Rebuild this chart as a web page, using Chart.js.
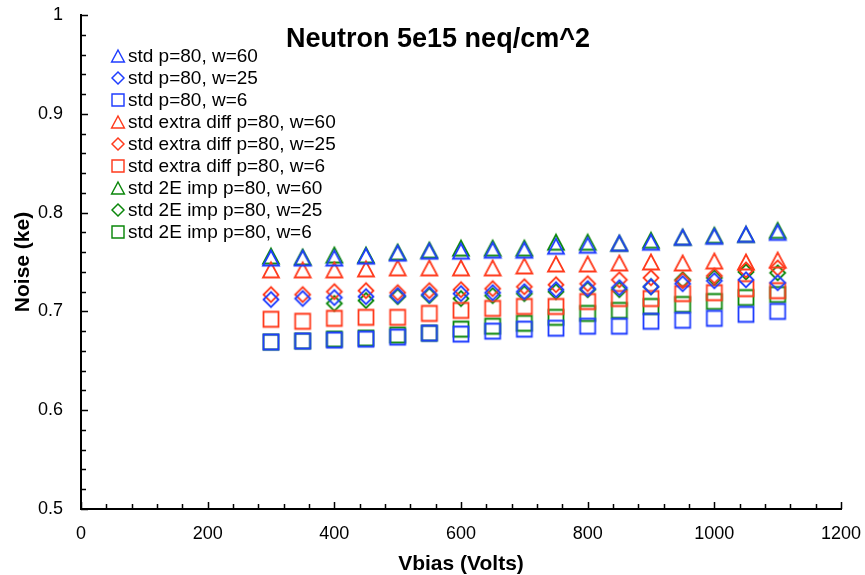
<!DOCTYPE html>
<html>
<head>
<meta charset="utf-8">
<script src="https://cdn.jsdelivr.net/npm/chart.js@4"></script>
<style>
html,body{margin:0;padding:0;background:#fff;}
#wrap{width:865px;height:575px;}
</style>
</head>
<body>
<div id="wrap"><canvas id="c" width="865" height="575"></canvas></div>
<script>
// ---- data ----
const titleText = "Neutron 5e15 neq/cm^2";
const xTitle = "Vbias (Volts)";
const yTitle = "Noise (ke)";
const volts = [300,350,400,450,500,550,600,650,700,750,800,850,900,950,1000,1050,1100];
const seriesNames = [
  "std p=80, w=60", "std p=80, w=25", "std p=80, w=6",
  "std extra diff p=80, w=60", "std extra diff p=80, w=25", "std extra diff p=80, w=6",
  "std 2E imp p=80, w=60", "std 2E imp p=80, w=25", "std 2E imp p=80, w=6"
];
const std_w60 = [0.754,0.754,0.754,0.756,0.759,0.761,0.761,0.762,0.762,0.766,0.767,0.769,0.770,0.775,0.776,0.778,0.780];
const std_w25 = [0.712,0.713,0.714,0.715,0.716,0.717,0.718,0.719,0.720,0.722,0.723,0.724,0.725,0.728,0.731,0.732,0.729];
const std_w6  = [0.669,0.670,0.671,0.672,0.674,0.678,0.677,0.680,0.682,0.683,0.685,0.685,0.690,0.691,0.693,0.697,0.700];
const xd_w60  = [0.742,0.742,0.742,0.743,0.744,0.744,0.744,0.744,0.746,0.748,0.748,0.749,0.750,0.749,0.751,0.750,0.752];
const xd_w25  = [0.717,0.717,0.720,0.721,0.719,0.721,0.722,0.723,0.725,0.727,0.728,0.732,0.734,0.731,0.736,0.742,0.744];
const xd_w6   = [0.692,0.690,0.693,0.694,0.694,0.698,0.701,0.703,0.705,0.705,0.710,0.713,0.713,0.718,0.719,0.723,0.721];
const e2_w60  = [0.756,0.755,0.757,0.757,0.760,0.762,0.764,0.764,0.764,0.770,0.770,0.769,0.772,0.775,0.777,0.778,0.782];
const e2_w25  = [null,null,0.708,0.711,0.715,0.716,0.713,0.716,0.718,0.720,0.722,0.722,0.725,0.732,0.734,0.740,0.739];
const e2_w6   = [0.669,0.670,0.672,0.673,0.676,0.678,0.682,0.685,0.688,0.694,0.698,0.701,0.705,0.707,0.710,0.714,0.717];
const yTickLabels = ["0.5","0.6","0.7","0.8","0.9","1"];
const xTickLabels = ["0","200","400","600","800","1000","1200"];

// ---- styling ----
const BLUE = '#1f3dff', RED = '#ff3a1c', GREEN = '#0a870a';
function makeMarker(shape, color, scale) {
  const s = Math.round(20 * scale);
  const c = document.createElement('canvas');
  c.width = s; c.height = s;
  const g = c.getContext('2d');
  g.scale(scale, scale);
  g.strokeStyle = color; g.lineWidth = 1.8; g.lineJoin = 'miter';
  g.beginPath();
  if (shape === 'tri') { g.moveTo(10, 2.5); g.lineTo(18, 17.5); g.lineTo(2, 17.5); g.closePath(); }
  else if (shape === 'dia') { g.moveTo(10, 2.5); g.lineTo(17.5, 10); g.lineTo(10, 17.5); g.lineTo(2.5, 10); g.closePath(); }
  else { g.rect(2.5, 2.5, 15, 15); }
  g.stroke();
  return c;
}
const seriesData = [std_w60, std_w25, std_w6, xd_w60, xd_w25, xd_w6, e2_w60, e2_w25, e2_w6];
const shapes = ['tri','dia','sq','tri','dia','sq','tri','dia','sq'];
const colors = [BLUE,BLUE,BLUE,RED,RED,RED,GREEN,GREEN,GREEN];

const datasets = seriesData.map((arr, i) => ({
  label: seriesNames[i],
  data: volts.map((v, k) => ({x: v, y: arr[k]})),
  pointStyle: makeMarker(shapes[i], colors[i], 1),
  pointRadius: 8,
  showLine: false,
  borderColor: colors[i],
  backgroundColor: 'transparent'
}));
const legendMarkers = shapes.map((s, i) => makeMarker(s, colors[i], 0.8));

const FONT = '"Liberation Sans", Arial, Helvetica, sans-serif';

const overlay = {
  id: 'overlay',
  afterDraw(chart) {
    const ctx = chart.ctx;
    const xs = chart.scales.x, ys = chart.scales.y;
    const area = chart.chartArea;
    ctx.save();
    // inward tick marks
    ctx.strokeStyle = '#000';
    ctx.lineWidth = 1.5;
    ctx.beginPath();
    for (let v = 0.5; v <= 1.0001; v += 0.02) {
      const py = Math.round(ys.getPixelForValue(v)) + 0.5;
      const major = Math.abs(v * 10 - Math.round(v * 10)) < 1e-6;
      ctx.moveTo(area.left, py); ctx.lineTo(area.left + (major ? 7 : 5), py);
    }
    for (let v = 0; v <= 1200.001; v += 40) {
      const px = Math.round(xs.getPixelForValue(v)) + 0.5;
      const major = v % 200 === 0;
      ctx.moveTo(px, area.bottom); ctx.lineTo(px, area.bottom - (major ? 7 : 5));
    }
    ctx.stroke();
    // title
    ctx.fillStyle = '#000';
    ctx.font = 'bold 27px ' + FONT;
    ctx.textAlign = 'center'; ctx.textBaseline = 'alphabetic';
    ctx.fillText(titleText, 438, 47);
    // axis titles
    ctx.font = 'bold 21px ' + FONT;
    ctx.fillText(xTitle, 461, 570);
    ctx.save();
    ctx.translate(29, 262); ctx.rotate(-Math.PI / 2);
    ctx.fillText(yTitle, 0, 0);
    ctx.restore();
    // legend
    ctx.font = '19px ' + FONT;
    ctx.textAlign = 'left'; ctx.textBaseline = 'middle';
    seriesNames.forEach((name, i) => {
      const cy = 56 + i * 22;
      const m = legendMarkers[i];
      ctx.drawImage(m, 118 - m.width / 2, cy - m.height / 2);
      ctx.fillText(name, 128, cy + 1);
    });
    ctx.restore();
  }
};

new Chart(document.getElementById('c'), {
  type: 'scatter',
  data: { datasets },
  options: {
    responsive: false,
    animation: false,
    devicePixelRatio: 1,
    layout: { padding: { left: 0, right: 24, top: 15, bottom: 0 } },
    plugins: { legend: { display: false }, tooltip: { enabled: false }, title: { display: false } },
    scales: {
      x: {
        type: 'linear', min: 0, max: 1200,
        afterFit(s) { s.height = 66; s.paddingLeft = 0; s.paddingRight = 0; },
        afterBuildTicks(s) { s.ticks = xTickLabels.map(t => ({ value: +t })); },
        ticks: { color: '#000', font: { family: FONT, size: 18 }, padding: 14, maxRotation: 0,
                 callback: (v) => String(v) },
        grid: { display: false, drawTicks: false },
        border: { display: true, color: '#000', width: 2 }
      },
      y: {
        type: 'linear', min: 0.5, max: 1.0,
        afterFit(s) { s.width = 81; s.paddingTop = 0; s.paddingBottom = 0; },
        afterBuildTicks(s) { s.ticks = yTickLabels.map(t => ({ value: +t })); },
        ticks: { color: '#000', font: { family: FONT, size: 18 }, padding: 18,
                 callback: (v) => String(+(+v).toFixed(1)) },
        grid: { display: false, drawTicks: false },
        border: { display: true, color: '#000', width: 2 }
      }
    }
  },
  plugins: [overlay]
});
</script>
</body>
</html>
